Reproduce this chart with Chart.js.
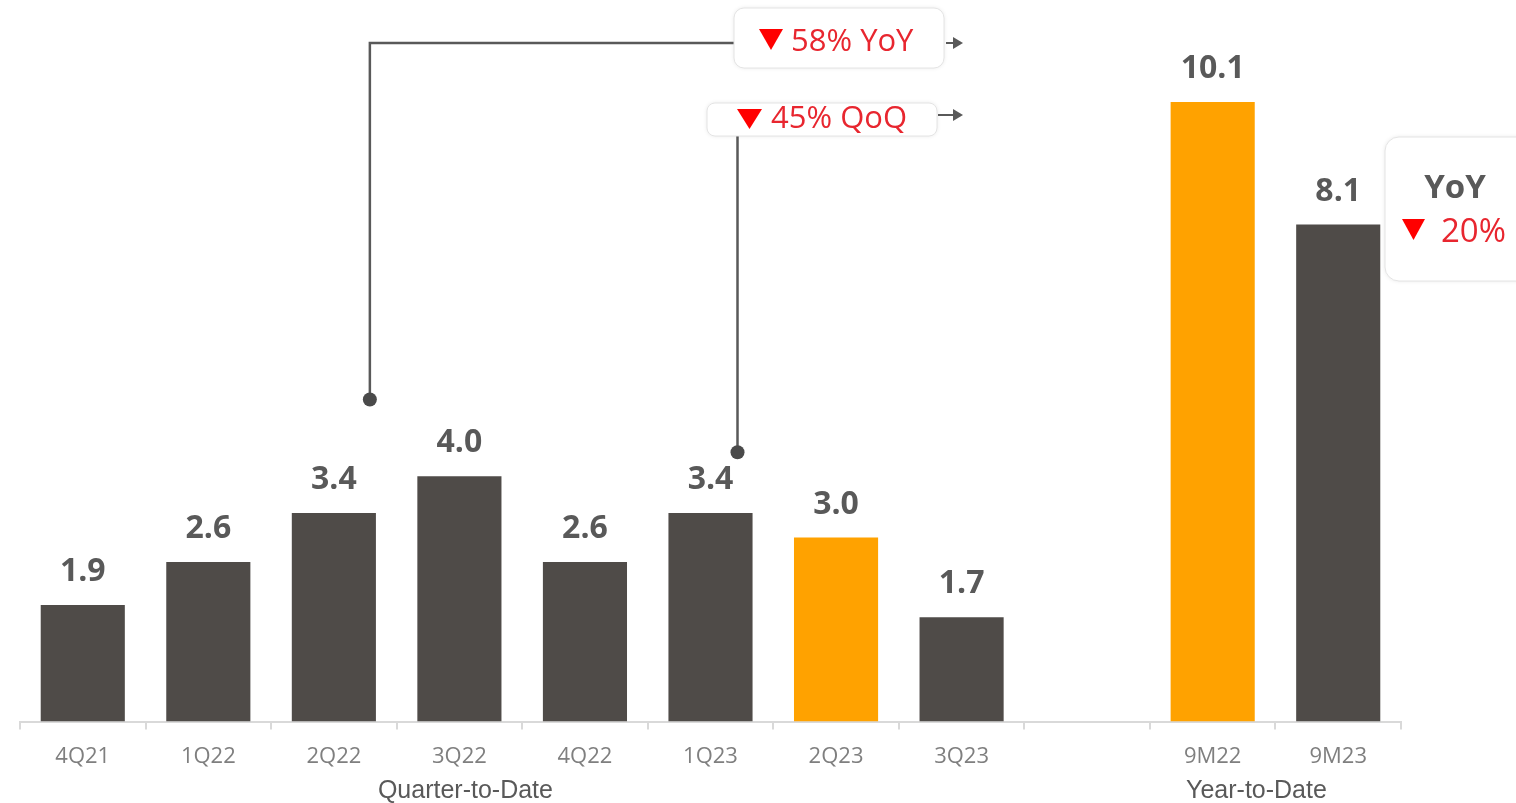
<!DOCTYPE html>
<html>
<head>
<meta charset="utf-8">
<title>Quarter-to-Date / Year-to-Date</title>
<script src="https://cdn.jsdelivr.net/npm/chart.js@4/dist/chart.umd.min.js"></script>
<style>
  html, body { margin: 0; padding: 0; background: #fff; }
  #wrap { width: 1516px; height: 803px; position: relative; }
</style>
</head>
<body>
<div id="wrap"><canvas id="bar-chart"></canvas></div>
<script>
// categories, the empty slot separates quarters from year-to-date
var labels = ['4Q21', '1Q22', '2Q22', '3Q22', '4Q22', '1Q23', '2Q23', '3Q23', '', '9M22', '9M23'];
var values = [1.9, 2.6, 3.4, 4.0, 2.6, 3.4, 3.0, 1.7, null, 10.1, 8.1];
var highlighted = ['2Q23', '9M22'];

var DARK = '#4f4b48';
var ORANGE = '#ffa200';
var GREY_TEXT = '#595959';
var RED_TEXT = '#e8262f';
var RED_MARK = '#ff0000';

function roundBox(ctx, x, y, w, h, r) {
    ctx.save();
    ctx.beginPath();
    ctx.roundRect(x, y, w, h, r);
    ctx.shadowColor = 'rgba(0,0,0,0.10)';
    ctx.shadowBlur = 4;
    ctx.fillStyle = '#fff';
    ctx.fill();
    ctx.shadowColor = 'transparent';
    ctx.strokeStyle = '#e4e4e4';
    ctx.lineWidth = 1;
    ctx.stroke();
    ctx.restore();
}

function downTriangle(ctx, x, y, w, h) {
    ctx.beginPath();
    ctx.moveTo(x, y);
    ctx.lineTo(x + w, y);
    ctx.lineTo(x + w / 2, y + h);
    ctx.closePath();
    ctx.fillStyle = RED_MARK;
    ctx.fill();
}

function arrow(ctx, x1, x2, y) {
    ctx.beginPath();
    ctx.moveTo(x1, y);
    ctx.lineTo(x2 - 8, y);
    ctx.strokeStyle = GREY_TEXT;
    ctx.lineWidth = 2;
    ctx.stroke();
    ctx.beginPath();
    ctx.moveTo(x2, y);
    ctx.lineTo(x2 - 10, y - 6);
    ctx.lineTo(x2 - 10, y + 6);
    ctx.closePath();
    ctx.fillStyle = GREY_TEXT;
    ctx.fill();
}

// value labels above each bar
var valueLabels = {
    id: 'valueLabels',
    afterDatasetsDraw: function(chart) {
        var ctx = chart.ctx;
        var meta = chart.getDatasetMeta(0);
        ctx.save();
        ctx.font = 'bold 32px "Open Sans"';
        ctx.fillStyle = GREY_TEXT;
        ctx.textAlign = 'center';
        ctx.textBaseline = 'middle';
        meta.data.forEach(function(bar, i) {
            if (values[i] === null) return;
            ctx.fillText(values[i].toFixed(1), bar.x, bar.y - 33);
        });
        ctx.restore();
    }
};

// connectors, change boxes and group titles
var callouts = {
    id: 'callouts',
    afterDraw: function(chart) {
        var ctx = chart.ctx;
        var xs = chart.scales.x;
        var ys = chart.scales.y;
        ctx.save();

        // YoY connector from 2Q22
        var x1 = xs.getPixelForValue(2) + 36;
        var y1 = ys.getPixelForValue(5.25);
        ctx.strokeStyle = GREY_TEXT;
        ctx.lineWidth = 2.5;
        ctx.beginPath();
        ctx.moveTo(x1, y1);
        ctx.lineTo(x1, 43);
        ctx.lineTo(734, 43);
        ctx.stroke();
        ctx.beginPath();
        ctx.arc(x1, y1, 7, 0, Math.PI * 2);
        ctx.fillStyle = '#4a4a4a';
        ctx.fill();

        // QoQ connector from 1Q23
        var x2 = xs.getPixelForValue(5) + 27;
        var y2 = ys.getPixelForValue(4.39);
        ctx.beginPath();
        ctx.moveTo(x2, y2);
        ctx.lineTo(x2, 136);
        ctx.stroke();
        ctx.beginPath();
        ctx.arc(x2, y2, 7, 0, Math.PI * 2);
        ctx.fill();

        roundBox(ctx, 734, 8, 210, 60, 10);
        roundBox(ctx, 707, 103, 230, 33, 8);

        ctx.textBaseline = 'middle';
        ctx.textAlign = 'left';
        downTriangle(ctx, 759, 29, 24, 21);
        ctx.font = '31px "Open Sans"';
        ctx.fillStyle = RED_TEXT;
        ctx.fillText('58% YoY', 791, 42);

        downTriangle(ctx, 737, 109, 25, 20);
        ctx.fillStyle = RED_TEXT;
        ctx.fillText('45% QoQ', 771, 119);

        arrow(ctx, 946, 963, 43);
        arrow(ctx, 938, 963, 115);

        // year-to-date change box
        roundBox(ctx, 1385, 137, 150, 144, 14);
        ctx.textAlign = 'center';
        ctx.font = 'bold 33px "Open Sans"';
        ctx.fillStyle = GREY_TEXT;
        ctx.fillText('YoY', 1455, 189);
        downTriangle(ctx, 1402, 219, 23, 21);
        ctx.textAlign = 'left';
        ctx.font = '33px "Open Sans"';
        ctx.fillStyle = RED_TEXT;
        ctx.fillText('20%', 1441, 233);

        // group titles under the axis
        ctx.textAlign = 'center';
        ctx.font = '25px "Liberation Sans"';
        ctx.fillStyle = GREY_TEXT;
        ctx.fillText('Quarter-to-Date', xs.getPixelForValue(3) + 6, 791);
        ctx.fillText('Year-to-Date', (xs.getPixelForValue(9) + xs.getPixelForValue(10)) / 2 - 19, 791);

        ctx.restore();
    }
};

new Chart(document.getElementById('bar-chart'), {
    type: 'bar',
    data: {
        labels: labels,
        datasets: [{
            data: values,
            backgroundColor: labels.map(function(l) {
                return highlighted.indexOf(l) >= 0 ? ORANGE : DARK;
            }),
            barPercentage: 0.67,
            categoryPercentage: 1.0
        }]
    },
    options: {
        responsive: true,
        maintainAspectRatio: false,
        animation: false,
        layout: { padding: { left: 20, right: 115, top: 16, bottom: 19 } },
        plugins: {
            legend: { display: false },
            tooltip: { enabled: false }
        },
        scales: {
            x: {
                grid: {
                    offset: true,
                    drawOnChartArea: false,
                    drawTicks: true,
                    tickLength: 8,
                    color: '#d9d9d9',
                    lineWidth: 2
                },
                border: { display: true, color: '#d9d9d9', width: 2 },
                ticks: {
                    color: '#7f7f7f',
                    font: { family: 'Open Sans', size: 22 },
                    padding: 14,
                    maxRotation: 0,
                    autoSkip: false
                }
            },
            y: {
                display: false,
                min: 0,
                max: 11.5
            }
        }
    },
    plugins: [valueLabels, callouts]
});
</script>
</body>
</html>
